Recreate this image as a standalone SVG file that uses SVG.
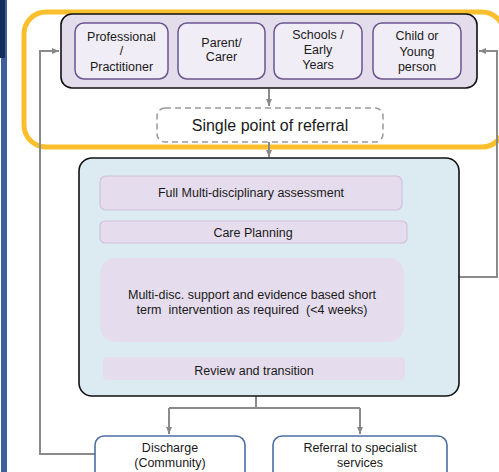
<svg xmlns="http://www.w3.org/2000/svg" width="499" height="472" viewBox="0 0 499 472">
  <defs>
    <marker id="arr" markerWidth="8" markerHeight="8" refX="7" refY="4" orient="auto" markerUnits="userSpaceOnUse">
      <path d="M0,1 L7,4 L0,7 Z" fill="#888"/>
    </marker>
    <style>
      text { font-family: "Liberation Sans", Arial, sans-serif; fill: #1a1a1a; text-anchor: middle; white-space: pre; }
      .src { fill: #f1edf6; stroke: #6b5490; stroke-width: 1.5; }
      .step { fill: #e5dded; stroke: #cfc2dc; stroke-width: 1.2; }
      .flat { fill: #e5dded; }
      .out { fill: #ffffff; stroke: #4a6ea4; stroke-width: 1.6; }
      .conn { fill: none; stroke: #8a8a8a; stroke-width: 2; }
      .t12 { font-size: 12.5px; }
    </style>
  </defs>

  <!-- page edge -->
  <rect x="1" y="0" width="6" height="472" fill="#3c6198"/>
  <rect x="0" y="0" width="5" height="58" fill="#142d5f"/>

  <!-- highlight around entry section -->
  <rect x="24" y="12" width="480" height="135" rx="22" fill="none" stroke="#fbbe2c" stroke-width="5"/>

  <!-- connectors -->
  <g id="connectors">
    <path class="conn" d="M269,89 V106" marker-end="url(#arr)"/>
    <path class="conn" d="M269,142 V157" marker-end="url(#arr)"/>
    <path class="conn" d="M256,381 V408 M169,408 H360"/>
    <path class="conn" d="M169,408 V434" marker-end="url(#arr)"/>
    <path class="conn" d="M360,408 V434" marker-end="url(#arr)"/>
    <path class="conn" d="M95,454 H40 V51 H59" marker-end="url(#arr)"/>
    <path class="conn" d="M459,277 H497 V51 H479" marker-end="url(#arr)"/>
  </g>

  <!-- referral sources -->
  <g id="sources">
    <rect x="61" y="14" width="416" height="74" rx="11" fill="#e3dcea" stroke="#111" stroke-width="1.6"/>
  </g>
  <g id="professional">
    <rect class="src" x="75" y="23" width="93" height="56" rx="9"/>
    <text class="t12" x="121.5" y="41">Professional</text>
    <text class="t12" x="121.5" y="55">/</text>
    <text class="t12" x="121.5" y="71">Practitioner</text>
  </g>
  <g id="parent">
    <rect class="src" x="178" y="23" width="87" height="56" rx="9"/>
    <text class="t12" x="221.5" y="47">Parent/</text>
    <text class="t12" x="221.5" y="61">Carer</text>
  </g>
  <g id="schools">
    <rect class="src" x="274" y="23" width="88" height="56" rx="9"/>
    <text class="t12" x="318" y="39">Schools /</text>
    <text class="t12" x="318" y="54">Early</text>
    <text class="t12" x="318" y="69">Years</text>
  </g>
  <g id="child">
    <rect class="src" x="373" y="23" width="88" height="56" rx="9"/>
    <text class="t12" x="417" y="40">Child or</text>
    <text class="t12" x="417" y="56">Young</text>
    <text class="t12" x="417" y="71">person</text>
  </g>

  <g id="single-point">
    <rect x="157" y="108" width="226" height="34" rx="8" fill="#fff" stroke="#999" stroke-width="1.5" stroke-dasharray="6,4"/>
    <text x="270" y="131" font-size="16px">Single point of referral</text>
  </g>

  <!-- service pathway -->
  <g id="pathway">
    <rect x="79" y="158" width="380" height="238" rx="13" fill="#dcebf2" stroke="#111" stroke-width="1.6"/>
  </g>
  <g id="assessment">
    <rect class="step" x="100" y="176" width="302" height="34" rx="6"/>
    <text class="t12" x="251" y="197">Full Multi-disciplinary assessment</text>
  </g>
  <g id="care-planning">
    <rect class="step" x="100" y="221" width="307" height="22" rx="5"/>
    <text class="t12" x="253" y="236.5">Care Planning</text>
  </g>
  <g id="support">
    <rect class="flat" x="100" y="258" width="304" height="84" rx="15"/>
    <text class="t12" x="252" y="299">Multi-disc. support and evidence based short</text>
    <text class="t12" x="252" y="314">term  intervention as required  (&lt;4 weeks)</text>
  </g>
  <g id="review">
    <rect class="flat" x="103" y="357" width="302" height="23" rx="4"/>
    <text class="t12" x="254" y="375">Review and transition</text>
  </g>

  <!-- outcomes -->
  <g id="discharge">
    <rect class="out" x="95" y="436" width="150" height="50" rx="9"/>
    <text class="t12" x="170" y="452">Discharge</text>
    <text class="t12" x="170" y="467">(Community)</text>
  </g>
  <g id="specialist">
    <rect class="out" x="273" y="436" width="174" height="50" rx="9"/>
    <text class="t12" x="360" y="452">Referral to specialist</text>
    <text class="t12" x="360" y="467">services</text>
  </g>
</svg>
